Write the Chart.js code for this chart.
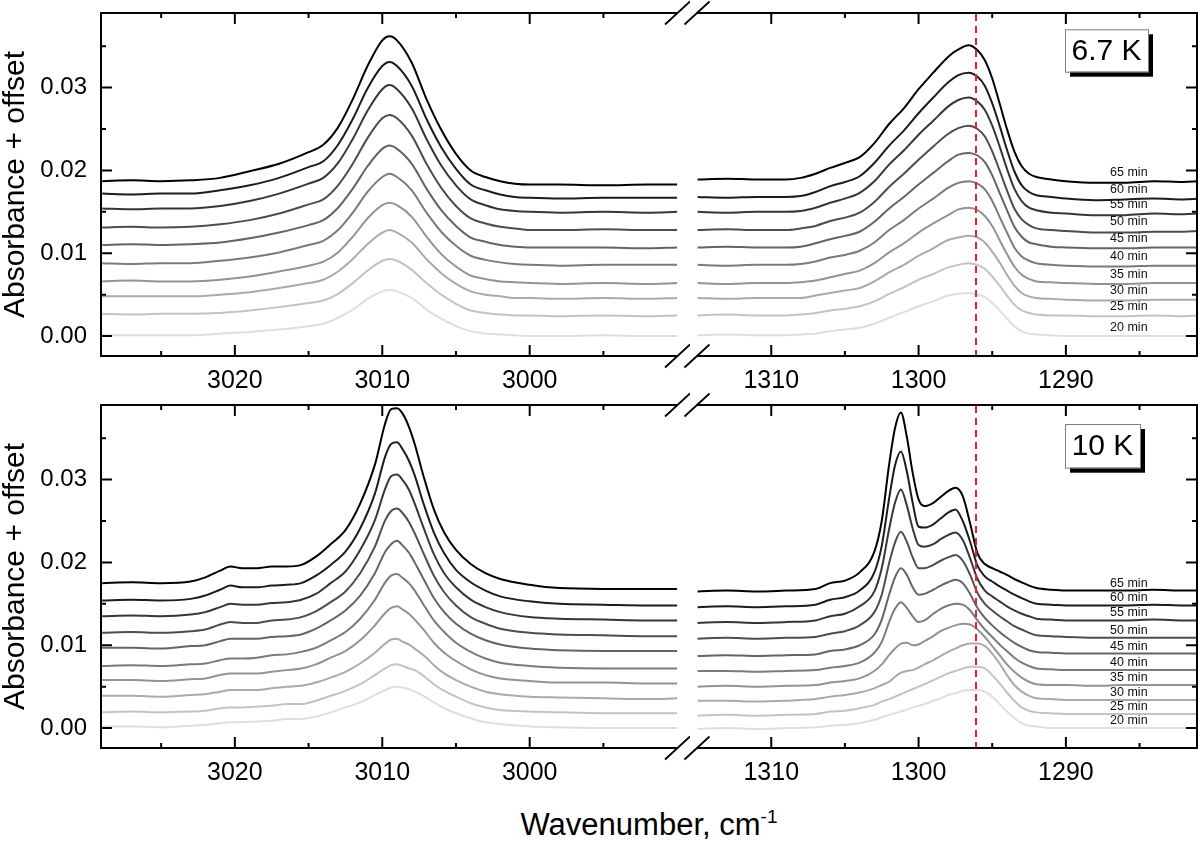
<!DOCTYPE html>
<html><head><meta charset="utf-8">
<script src="https://cdn.jsdelivr.net/npm/chart.js@4.4.1/dist/chart.umd.min.js"></script>
<style>
html,body{margin:0;padding:0;background:#fff;}
#wrap{position:relative;width:1200px;height:841px;overflow:hidden;background:#fff;}
#wrap canvas{position:absolute;}
#xtitle{position:absolute;left:0;width:1298px;top:809px;text-align:center;font-family:'Liberation Sans',Arial,sans-serif;font-size:31px;line-height:31px;color:#000;white-space:nowrap;}
#xtitle span{font-size:19px;position:relative;top:-12px;}
</style></head><body>
<div id="wrap">
<canvas id="tl" width="690" height="400" style="left:0;top:0"></canvas>
<canvas id="tr" width="520" height="400" style="left:680px;top:0"></canvas>
<canvas id="bl" width="690" height="400" style="left:0;top:392px"></canvas>
<canvas id="br" width="520" height="400" style="left:680px;top:392px"></canvas>
<div id="xtitle">Wavenumber, cm<span>-1</span></div>
</div>
<script>
// ---------- data ----------
const TIMES = ['20 min','25 min','30 min','35 min','40 min','45 min','50 min','55 min','60 min','65 min'];
const X_TICKS_LEFT = [3020, 3010, 3000];
const X_MINOR_LEFT = [3025, 3015, 3005, 2995];
const X_TICKS_RIGHT = [1310, 1300, 1290];
const X_MINOR_RIGHT = [1305, 1295, 1285];
const Y_TICKS = [0, 0.01, 0.02, 0.03];
const Y_MINOR = [0.005, 0.015, 0.025, 0.035];
const RED_LINE_X = 1296.1;

// 6.7 K, 3010 cm-1 region
const TL_X = [3029,3027,3025,3023,3021,3019,3017,3015,3014,3013,3012,3011,3010,3009.5,3009,3008,3007,3006,3005,3004,3003,3002,3001,3000,2998,2995,2992,2990];
const TL_20 = [.0001,.0001,.0001,.0001,.0003,.0005,.0008,.0012,.0015,.0022,.0032,.0045,.0054,.0056,.0054,.0046,.0032,.0021,.0012,.0006,.0003,.0002,.0001,.0000,.0000,.0001,.0000,.0000];
const TL_25 = [.0027,.0026,.0027,.0027,.0028,.0031,.0035,.0040,.0043,.0051,.0064,.0079,.0091,.0093,.0091,.0080,.0064,.0050,.0039,.0031,.0028,.0026,.0025,.0025,.0024,.0025,.0024,.0025];
const TL_30 = [.0048,.0048,.0048,.0048,.0050,.0053,.0058,.0064,.0068,.0078,.0093,.0111,.0125,.0128,.0125,.0113,.0093,.0076,.0063,.0054,.0050,.0048,.0046,.0046,.0045,.0046,.0045,.0046];
const TL_35 = [.0066,.0067,.0066,.0066,.0068,.0072,.0078,.0085,.0090,.0101,.0120,.0142,.0158,.0161,.0158,.0144,.0120,.0099,.0084,.0073,.0069,.0066,.0065,.0064,.0063,.0064,.0063,.0064];
const TL_40 = [.0088,.0087,.0088,.0088,.0091,.0095,.0101,.0110,.0115,.0128,.0149,.0174,.0192,.0196,.0192,.0176,.0149,.0126,.0109,.0097,.0092,.0089,.0087,.0086,.0085,.0086,.0086,.0086];
const TL_45 = [.0110,.0111,.0110,.0111,.0113,.0118,.0125,.0134,.0140,.0155,.0178,.0205,.0226,.0230,.0226,.0208,.0178,.0152,.0133,.0119,.0114,.0110,.0108,.0107,.0107,.0107,.0106,.0107];
const TL_50 = [.0131,.0132,.0131,.0132,.0135,.0140,.0148,.0159,.0165,.0182,.0208,.0239,.0263,.0267,.0263,.0242,.0208,.0179,.0157,.0142,.0136,.0132,.0130,.0128,.0128,.0129,.0128,.0128];
const TL_55 = [.0154,.0153,.0154,.0154,.0157,.0163,.0172,.0184,.0191,.0209,.0238,.0272,.0298,.0303,.0298,.0275,.0238,.0206,.0182,.0165,.0158,.0153,.0151,.0150,.0149,.0150,.0149,.0150];
const TL_60 = [.0172,.0171,.0172,.0172,.0176,.0182,.0191,.0204,.0211,.0231,.0262,.0299,.0326,.0331,.0326,.0302,.0262,.0228,.0202,.0183,.0176,.0171,.0168,.0167,.0166,.0167,.0167,.0167];
const TL_65 = [.0187,.0188,.0187,.0188,.0191,.0199,.0208,.0222,.0231,.0252,.0286,.0326,.0357,.0362,.0357,.0330,.0286,.0249,.0220,.0200,.0192,.0187,.0184,.0183,.0183,.0182,.0183,.0183];

// 6.7 K, 1300 cm-1 region
const TR_X = [1315,1313,1311,1309,1308,1307,1306,1305,1304,1303,1302,1301,1300,1299,1298,1297.3,1296.6,1296,1295.5,1295,1294.5,1294,1293.5,1293,1292.5,1292,1291,1290,1288,1286,1284,1282,1281];
const TR_20 = [.0001,.0002,.0001,.0001,.0002,.0003,.0006,.0008,.0010,.0015,.0022,.0029,.0036,.0042,.0049,.0051,.0052,.0050,.0047,.0040,.0031,.0021,.0012,.0006,.0003,.0002,.0001,.0000,.0000,.0000,.0000,.0000,.0000];
const TR_25 = [.0025,.0026,.0025,.0025,.0026,.0028,.0031,.0033,.0036,.0042,.0051,.0059,.0068,.0075,.0083,.0086,.0088,.0086,.0081,.0072,.0061,.0049,.0038,.0031,.0028,.0026,.0025,.0025,.0024,.0024,.0025,.0024,.0025];
const TR_30 = [.0046,.0045,.0046,.0046,.0046,.0049,.0052,.0055,.0058,.0066,.0077,.0086,.0097,.0106,.0116,.0119,.0121,.0119,.0113,.0102,.0089,.0074,.0061,.0052,.0048,.0046,.0045,.0044,.0043,.0043,.0044,.0044,.0044];
const TR_35 = [.0064,.0063,.0064,.0064,.0065,.0067,.0071,.0075,.0079,.0088,.0101,.0112,.0125,.0136,.0146,.0153,.0155,.0152,.0145,.0133,.0116,.0099,.0084,.0074,.0069,.0066,.0065,.0064,.0063,.0063,.0064,.0064,.0064];
const TR_40 = [.0086,.0085,.0086,.0086,.0087,.0090,.0095,.0098,.0103,.0113,.0128,.0140,.0154,.0166,.0179,.0185,.0187,.0184,.0177,.0163,.0144,.0125,.0107,.0096,.0091,.0088,.0086,.0085,.0084,.0084,.0085,.0085,.0085];
const TR_45 = [.0107,.0108,.0107,.0107,.0108,.0112,.0117,.0121,.0126,.0138,.0154,.0168,.0183,.0197,.0211,.0219,.0221,.0218,.0210,.0194,.0173,.0152,.0132,.0120,.0113,.0111,.0108,.0107,.0106,.0106,.0107,.0107,.0107];
const TR_50 = [.0128,.0129,.0128,.0128,.0130,.0133,.0139,.0143,.0149,.0162,.0180,.0196,.0213,.0229,.0244,.0251,.0254,.0250,.0241,.0223,.0200,.0176,.0154,.0141,.0134,.0130,.0128,.0127,.0125,.0125,.0126,.0126,.0127];
const TR_55 = [.0150,.0149,.0150,.0150,.0151,.0155,.0161,.0166,.0173,.0187,.0207,.0224,.0243,.0260,.0277,.0285,.0288,.0283,.0273,.0254,.0229,.0202,.0178,.0163,.0155,.0152,.0149,.0148,.0146,.0146,.0148,.0147,.0148];
const TR_60 = [.0168,.0167,.0168,.0168,.0169,.0174,.0181,.0186,.0193,.0209,.0230,.0248,.0269,.0288,.0306,.0315,.0318,.0313,.0302,.0281,.0254,.0225,.0199,.0182,.0174,.0170,.0168,.0166,.0164,.0165,.0166,.0165,.0166];
const TR_65 = [.0189,.0190,.0189,.0189,.0191,.0196,.0203,.0209,.0216,.0233,.0256,.0275,.0298,.0318,.0337,.0346,.0351,.0345,.0333,.0311,.0281,.0250,.0223,.0205,.0196,.0192,.0189,.0187,.0185,.0185,.0187,.0186,.0187];

// 10 K, 3010 cm-1 region
const BL_X = [3029,3027,3025,3023,3022,3021,3020.3,3019.5,3018.5,3017.5,3016.5,3015.5,3014.5,3013.5,3012.5,3011.5,3010.5,3009.8,3009.4,3009,3008.6,3008.2,3007.8,3007.2,3006.5,3005.8,3005,3004,3003,3002,3000,2998,2995,2992,2990];
const BL_20 = [.0002,.0002,.0001,.0003,.0004,.0006,.0007,.0007,.0008,.0009,.0011,.0011,.0014,.0019,.0025,.0031,.0040,.0046,.0049,.0050,.0049,.0047,.0044,.0039,.0031,.0024,.0018,.0012,.0007,.0005,.0002,.0001,.0000,.0000,.0000];
const BL_25 = [.0019,.0020,.0019,.0020,.0021,.0024,.0025,.0025,.0026,.0027,.0029,.0029,.0033,.0039,.0045,.0053,.0064,.0072,.0076,.0077,.0075,.0072,.0070,.0063,.0053,.0045,.0038,.0030,.0025,.0022,.0020,.0019,.0018,.0018,.0018];
const BL_30 = [.0039,.0039,.0038,.0040,.0041,.0044,.0046,.0046,.0046,.0048,.0050,.0051,.0055,.0061,.0068,.0078,.0091,.0102,.0107,.0108,.0104,.0101,.0096,.0088,.0076,.0066,.0058,.0050,.0044,.0041,.0038,.0037,.0036,.0035,.0036];
const BL_35 = [.0058,.0058,.0057,.0059,.0060,.0064,.0066,.0066,.0066,.0068,.0070,.0072,.0077,.0085,.0093,.0106,.0124,.0139,.0145,.0147,.0143,.0138,.0131,.0119,.0103,.0091,.0081,.0071,.0064,.0060,.0057,.0055,.0055,.0054,.0054];
const BL_40 = [.0075,.0076,.0075,.0077,.0078,.0082,.0084,.0084,.0085,.0088,.0089,.0092,.0097,.0106,.0116,.0132,.0155,.0176,.0184,.0186,.0181,.0175,.0166,.0149,.0130,.0116,.0103,.0092,.0084,.0079,.0075,.0073,.0072,.0072,.0072];
const BL_45 = [.0097,.0097,.0096,.0099,.0100,.0105,.0108,.0108,.0108,.0110,.0111,.0113,.0120,.0130,.0142,.0160,.0187,.0213,.0222,.0226,.0220,.0212,.0200,.0180,.0157,.0140,.0126,.0114,.0106,.0101,.0096,.0094,.0093,.0093,.0093];
const BL_50 = [.0115,.0116,.0115,.0117,.0119,.0125,.0128,.0127,.0127,.0130,.0131,.0134,.0141,.0152,.0165,.0187,.0219,.0251,.0262,.0265,.0259,.0249,.0235,.0211,.0184,.0164,.0148,.0134,.0126,.0120,.0115,.0113,.0112,.0111,.0111];
const BL_55 = [.0135,.0136,.0135,.0137,.0140,.0146,.0150,.0149,.0149,.0151,.0152,.0155,.0162,.0175,.0189,.0215,.0251,.0289,.0304,.0306,.0299,.0288,.0271,.0242,.0210,.0187,.0170,.0155,.0146,.0140,.0134,.0132,.0131,.0130,.0130];
const BL_60 = [.0154,.0155,.0154,.0156,.0160,.0167,.0172,.0170,.0170,.0172,.0173,.0175,.0184,.0197,.0213,.0241,.0283,.0328,.0343,.0345,.0336,.0323,.0305,.0271,.0236,.0211,.0191,.0176,.0166,.0159,.0153,.0150,.0149,.0148,.0148];
const BL_65 = [.0175,.0176,.0175,.0177,.0182,.0190,.0195,.0193,.0193,.0195,.0195,.0197,.0207,.0222,.0239,.0271,.0318,.0368,.0385,.0386,.0379,.0364,.0343,.0304,.0264,.0236,.0215,.0198,.0187,.0180,.0173,.0169,.0168,.0168,.0168];

// 10 K, 1300 cm-1 region
const BR_X = [1315,1313,1311,1309,1307,1306,1305,1304,1303,1302.5,1302,1301.6,1301.2,1300.8,1300.4,1300,1299.6,1299,1298.5,1298,1297.5,1297,1296.5,1296,1295.5,1295,1294.5,1294,1293.5,1293,1292.5,1292,1291,1290,1288,1286,1284,1282,1281];
const BR_20 = [-.0001,.0000,-.0001,.0000,.0001,.0003,.0004,.0006,.0010,.0013,.0016,.0018,.0020,.0022,.0025,.0027,.0029,.0033,.0036,.0040,.0042,.0045,.0046,.0046,.0044,.0038,.0029,.0020,.0012,.0006,.0003,.0002,.0000,.0000,.0000,.0000,.0000,.0000,.0000];
const BR_25 = [.0015,.0016,.0015,.0016,.0017,.0020,.0021,.0024,.0028,.0032,.0035,.0038,.0041,.0044,.0047,.0050,.0053,.0058,.0062,.0066,.0069,.0072,.0074,.0074,.0072,.0064,.0054,.0043,.0033,.0025,.0021,.0019,.0018,.0017,.0017,.0017,.0017,.0017,.0017];
const BR_30 = [.0033,.0033,.0032,.0033,.0035,.0038,.0040,.0043,.0048,.0052,.0056,.0062,.0067,.0069,.0070,.0073,.0077,.0082,.0087,.0092,.0096,.0100,.0102,.0102,.0099,.0090,.0078,.0064,.0052,.0044,.0039,.0036,.0035,.0034,.0034,.0034,.0034,.0034,.0034];
const BR_35 = [.0050,.0051,.0050,.0051,.0052,.0055,.0057,.0060,.0069,.0077,.0088,.0096,.0102,.0103,.0100,.0101,.0105,.0111,.0117,.0121,.0124,.0126,.0125,.0119,.0110,.0099,.0088,.0077,.0068,.0061,.0056,.0053,.0052,.0052,.0051,.0052,.0052,.0052,.0052];
const BR_40 = [.0069,.0069,.0068,.0069,.0070,.0073,.0075,.0079,.0091,.0104,.0128,.0144,.0152,.0145,.0135,.0128,.0130,.0138,.0144,.0148,.0150,.0149,.0142,.0130,.0119,.0110,.0101,.0093,.0085,.0079,.0075,.0072,.0071,.0070,.0070,.0070,.0070,.0070,.0070];
const BR_45 = [.0087,.0088,.0087,.0088,.0089,.0093,.0095,.0100,.0113,.0131,.0161,.0182,.0193,.0185,.0170,.0161,.0162,.0167,.0172,.0176,.0179,.0175,.0162,.0145,.0133,.0124,.0116,.0109,.0103,.0098,.0094,.0092,.0091,.0090,.0090,.0090,.0090,.0090,.0090];
const BR_50 = [.0108,.0109,.0108,.0109,.0110,.0114,.0117,.0124,.0140,.0161,.0199,.0224,.0237,.0225,.0206,.0193,.0193,.0197,.0202,.0206,.0209,.0202,.0185,.0163,.0150,.0142,.0135,.0129,.0123,.0119,.0115,.0112,.0111,.0110,.0109,.0109,.0109,.0109,.0109];
const BR_55 = [.0127,.0128,.0127,.0128,.0130,.0135,.0138,.0147,.0165,.0193,.0240,.0272,.0288,.0269,.0241,.0221,.0219,.0222,.0228,.0233,.0236,.0227,.0205,.0180,.0166,.0159,.0153,.0147,.0142,.0138,.0135,.0132,.0131,.0130,.0130,.0130,.0131,.0130,.0130];
const BR_60 = [.0146,.0147,.0146,.0147,.0149,.0155,.0158,.0166,.0188,.0220,.0277,.0317,.0334,.0310,.0272,.0243,.0242,.0246,.0253,.0260,.0264,.0250,.0225,.0196,.0183,.0177,.0171,.0166,.0161,.0157,.0153,.0150,.0149,.0148,.0148,.0148,.0149,.0148,.0148];
const BR_65 = [.0165,.0166,.0165,.0166,.0168,.0175,.0178,.0188,.0213,.0250,.0318,.0362,.0381,.0352,.0308,.0276,.0268,.0272,.0279,.0286,.0290,.0280,.0247,.0211,.0198,.0193,.0189,.0185,.0180,.0176,.0172,.0169,.0167,.0166,.0166,.0166,.0167,.0166,.0166];

// ---------- styling ----------
const FONT = "'Liberation Sans', Arial, Helvetica, sans-serif";
const COLORS = ['#dedede','#c3c3c3','#aaaaaa','#939393','#7b7b7b','#646464','#4d4d4d','#363636','#1c1c1c','#000000'];
const Y_MIN = -0.0024, Y_MAX = 0.0390;

function makeDatasets(xs, series) {
  return series.map((ys, i) => ({
    label: TIMES[i],
    data: xs.map((x, j) => ({x: x, y: ys[j]})),
    borderColor: COLORS[i],
    borderWidth: 2,
    pointRadius: 0,
    fill: false,
    cubicInterpolationMode: 'monotone'
  }));
}

function zeroPad(s) { s.paddingLeft = 0; s.paddingRight = 0; s.paddingTop = 0; s.paddingBottom = 0; }

function xScale(min, max, ticks) {
  return {
    type: 'linear', position: 'bottom', min: min, max: max, reverse: true,
    grid: {display: false, drawTicks: false}, border: {display: false},
    afterBuildTicks: s => { s.ticks = ticks.map(v => ({value: v})); },
    afterFit: s => { s.height = 40; zeroPad(s); },
    ticks: {color: '#000', font: {family: FONT, size: 25, lineHeight: 1.2}, padding: 10,
            maxRotation: 0, minRotation: 0, autoSkip: false, callback: v => String(v)}
  };
}
function yScale(show) {
  return {
    type: 'linear', position: 'left', min: Y_MIN, max: Y_MAX, display: show,
    grid: {display: false, drawTicks: false}, border: {display: false},
    afterBuildTicks: s => { s.ticks = Y_TICKS.map(v => ({value: v})); },
    afterFit: s => { s.width = show ? 101 : 0; zeroPad(s); },
    ticks: {color: '#000', font: {family: FONT, size: 24}, padding: 14, callback: v => v.toFixed(2)},
    title: {display: show, text: 'Absorbance + offset', color: '#000',
            font: {family: FONT, size: 30, lineHeight: 1}, padding: {top: 1, bottom: 0}}
  };
}

const framePlugin = {
  id: 'frame',
  afterDraw(chart, args, o) {
    const ctx = chart.ctx, a = chart.chartArea;
    const xs = chart.scales.x, ys = chart.scales.y;
    const left = o.side === 'left';
    ctx.save();
    ctx.strokeStyle = '#000';
    ctx.lineWidth = 2;
    // frame
    const xa = a.left, xb = left ? a.right - 5.5 : a.right;
    ctx.beginPath();
    ctx.moveTo(xa - (left ? 1 : 0), a.top); ctx.lineTo(xb + (left ? 0 : 1), a.top);
    ctx.moveTo(xa - (left ? 1 : 0), a.bottom); ctx.lineTo(xb + (left ? 0 : 1), a.bottom);
    const vx = left ? a.left : a.right;
    ctx.moveTo(vx, a.top); ctx.lineTo(vx, a.bottom);
    ctx.stroke();
    // axis break marks
    const cx = left ? a.right - 5.5 : a.left;
    ctx.lineWidth = 1.8;
    ctx.beginPath();
    [a.top, a.bottom].forEach(cy => { ctx.moveTo(cx - 12.5, cy + 11.5); ctx.lineTo(cx + 12.5, cy - 11.5); });
    ctx.stroke();
    // inward ticks
    ctx.lineWidth = 2;
    ctx.beginPath();
    const xt = (list, len) => list.forEach(v => {
      const p = xs.getPixelForValue(v);
      if (p < a.left + 1 || p > a.right - 1) return;
      ctx.moveTo(p, a.bottom); ctx.lineTo(p, a.bottom - len);
      ctx.moveTo(p, a.top); ctx.lineTo(p, a.top + len);
    });
    xt(o.major, 11); xt(o.minor, 5);
    const yt = (list, len) => list.forEach(v => {
      const p = ys.getPixelForValue(v);
      if (p < a.top + 1 || p > a.bottom - 1) return;
      if (left) { ctx.moveTo(a.left, p); ctx.lineTo(a.left + len, p); }
      else { ctx.moveTo(a.right, p); ctx.lineTo(a.right - len, p); }
    });
    yt(Y_TICKS, 11); yt(Y_MINOR, 5);
    ctx.stroke();
    if (!left) {
      // red dashed reference line
      const rx = xs.getPixelForValue(RED_LINE_X);
      ctx.save();
      ctx.strokeStyle = '#ee2020';
      ctx.lineWidth = 2;
      ctx.setLineDash([7, 5]);
      ctx.beginPath(); ctx.moveTo(rx, a.top + 1); ctx.lineTo(rx, a.bottom - 1); ctx.stroke();
      ctx.restore();
      // time labels
      ctx.fillStyle = '#111';
      ctx.font = '12.5px ' + FONT;
      ctx.textAlign = 'left';
      ctx.textBaseline = 'middle';
      const lx = xs.getPixelForValue(o.labelX);
      chart.data.datasets.forEach(ds => {
        const last = ds.data[ds.data.length - 1];
        ctx.fillText(ds.label, lx, ys.getPixelForValue(last.y) + o.labelOffset);
      });
      // temperature box
      const b = o.box;
      const bx = a.right - b.fromRight, by = a.top + b.fromTop;
      ctx.fillStyle = '#000';
      ctx.fillRect(bx + 5, by + 5, b.w, b.h);
      ctx.fillStyle = '#fff';
      ctx.fillRect(bx, by, b.w, b.h);
      ctx.strokeStyle = '#808080';
      ctx.lineWidth = 1;
      ctx.strokeRect(bx + 0.5, by + 0.5, b.w, b.h);
      ctx.fillStyle = '#000';
      ctx.font = '30px ' + FONT;
      ctx.textAlign = 'center';
      ctx.textBaseline = 'middle';
      ctx.fillText(o.temp, bx + b.w / 2, by + b.h / 2 + 1);
    }
    ctx.restore();
  }
};

function makeChart(id, xsArr, series, side, xmin, xmax, frameOpts) {
  const isLeft = side === 'left';
  return new Chart(document.getElementById(id), {
    type: 'line',
    data: {datasets: makeDatasets(xsArr, series)},
    options: {
      responsive: false, animation: false, devicePixelRatio: 1, events: [],
      layout: {padding: isLeft ? {left: 0, right: 7, top: 13, bottom: 4} : {left: 17, right: 3, top: 13, bottom: 4}},
      scales: {
        x: xScale(xmin, xmax, isLeft ? X_TICKS_LEFT : X_TICKS_RIGHT),
        y: yScale(isLeft)
      },
      plugins: {legend: {display: false}, tooltip: {enabled: false},
                frame: Object.assign({side: side, major: isLeft ? X_TICKS_LEFT : X_TICKS_RIGHT,
                                      minor: isLeft ? X_MINOR_LEFT : X_MINOR_RIGHT}, frameOpts)}
    },
    plugins: [framePlugin]
  });
}

makeChart('tl', TL_X, [TL_20, TL_25, TL_30, TL_35, TL_40, TL_45, TL_50, TL_55, TL_60, TL_65], 'left', 2989.6, 3029.08, {});
makeChart('tr', TR_X, [TR_20, TR_25, TR_30, TR_35, TR_40, TR_45, TR_50, TR_55, TR_60, TR_65], 'right', 1281.1, 1315.04,
  {labelX: 1287.0, labelOffset: -9, temp: '6.7 K', box: {fromRight: 132, fromTop: 16.3, w: 83, h: 42.4}});
makeChart('bl', BL_X, [BL_20, BL_25, BL_30, BL_35, BL_40, BL_45, BL_50, BL_55, BL_60, BL_65], 'left', 2989.6, 3029.08, {});
makeChart('br', BR_X, [BR_20, BR_25, BR_30, BR_35, BR_40, BR_45, BR_50, BR_55, BR_60, BR_65], 'right', 1281.1, 1315.04,
  {labelX: 1287.0, labelOffset: -7.5, temp: '10 K', box: {fromRight: 132, fromTop: 19, w: 75, h: 43.7}});
</script>
</body></html>
